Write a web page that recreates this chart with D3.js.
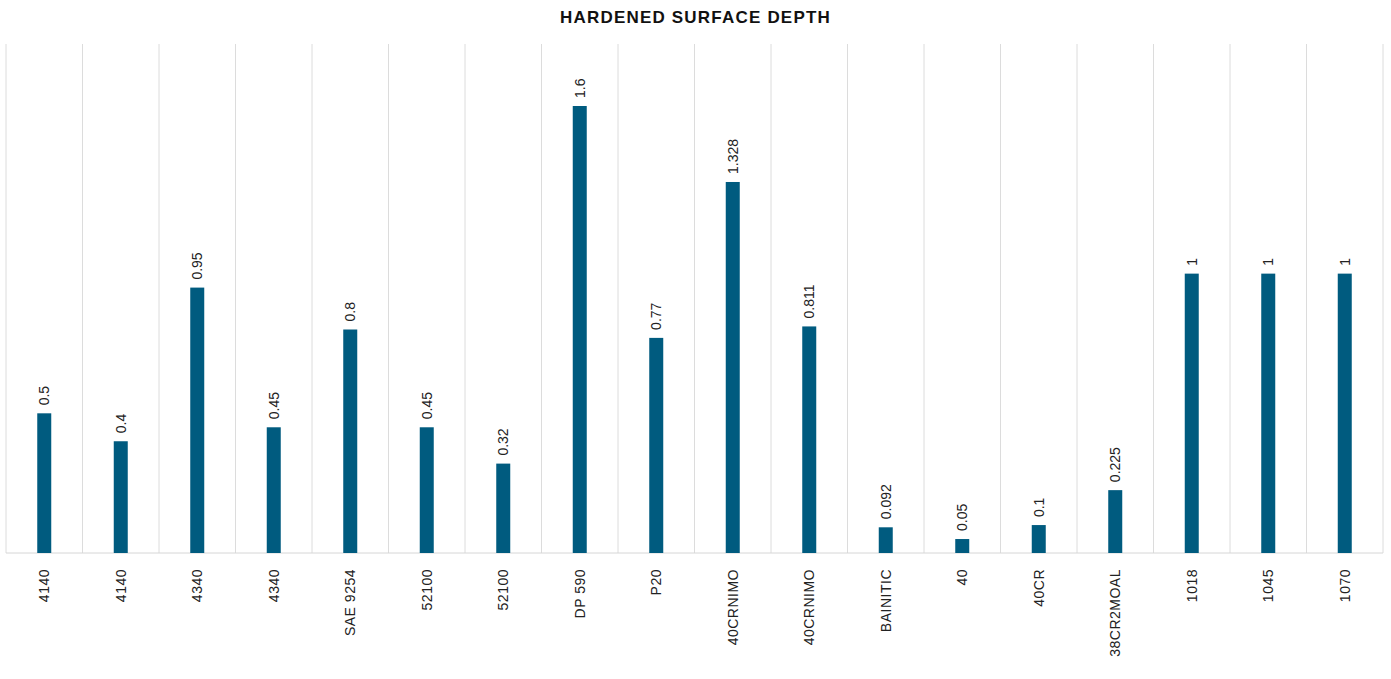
<!DOCTYPE html>
<html>
<head>
<meta charset="utf-8">
<script src="https://cdn.jsdelivr.net/npm/d3@7"></script>
<style>
  body { margin: 0; background: #fff; }
  text { font-family: "Liberation Sans", Arial, sans-serif; }
</style>
</head>
<body>
<div id="chart"></div>
<script>
const categories = ['4140', '4140', '4340', '4340', 'SAE 9254', '52100', '52100', 'DP 590', 'P20',
  '40CRNIMO', '40CRNIMO', 'BAINITIC', '40', '40CR', '38CR2MOAL', '1018', '1045', '1070'];
const values = [0.5, 0.4, 0.95, 0.45, 0.8, 0.45, 0.32, 1.6, 0.77, 1.328, 0.811, 0.092, 0.05, 0.1, 0.225, 1, 1, 1];
const labels = ['0.5', '0.4', '0.95', '0.45', '0.8', '0.45', '0.32', '1.6', '0.77', '1.328', '0.811',
  '0.092', '0.05', '0.1', '0.225', '1', '1', '1'];

const w = 1391;
const h = 679;
const padLeft = 6, padRight = 1383, padTop = 44, base = 553;

const svg = d3.select('#chart').append('svg')
  .attr('width', w)
  .attr('height', h);

svg.append('text')
  .text('HARDENED SURFACE DEPTH')
  .attr('x', w / 2)
  .attr('y', 23)
  .attr('text-anchor', 'middle')
  .attr('font-size', 17)
  .attr('font-weight', 'bold')
  .attr('letter-spacing', 1.2)
  .attr('fill', '#111');

const idx = d3.range(categories.length);
const xScale = d3.scaleBand(idx, [padLeft, padRight]);
const yScale = d3.scaleLinear([0, 1.6], [base, base - 447]);

// vertical gridlines between categories
svg.append('g')
  .selectAll('line')
  .data(idx.concat([categories.length]))
  .join('line')
  .attr('x1', i => i < categories.length ? xScale(i) : padRight)
  .attr('x2', i => i < categories.length ? xScale(i) : padRight)
  .attr('y1', padTop)
  .attr('y2', base)
  .attr('stroke', '#dcdcdc')
  .attr('stroke-width', 1);

svg.append('line')
  .attr('x1', padLeft).attr('x2', padRight)
  .attr('y1', base).attr('y2', base)
  .attr('stroke', '#d6d6d6');

const bw = 14;
svg.append('g')
  .selectAll('rect')
  .data(idx)
  .join('rect')
  .attr('x', i => xScale(i) + xScale.bandwidth() / 2 - bw / 2)
  .attr('y', i => yScale(values[i]))
  .attr('width', bw)
  .attr('height', i => base - yScale(values[i]))
  .attr('fill', '#005b7f');

// value labels, rotated
svg.append('g')
  .selectAll('text')
  .data(idx)
  .join('text')
  .attr('transform', i => `translate(${xScale(i) + xScale.bandwidth() / 2 + 5},${yScale(values[i]) - 8}) rotate(-90)`)
  .attr('text-anchor', 'start')
  .attr('font-size', 14)
  .attr('fill', '#222')
  .text(i => labels[i]);

// category labels
svg.append('g')
  .selectAll('text')
  .data(idx)
  .join('text')
  .attr('transform', i => `translate(${xScale(i) + xScale.bandwidth() / 2 + 5},${base + 16}) rotate(-90)`)
  .attr('text-anchor', 'end')
  .attr('font-size', 14)
  .attr('letter-spacing', 0.5)
  .attr('fill', '#222')
  .text(i => categories[i]);
</script>
</body>
</html>
